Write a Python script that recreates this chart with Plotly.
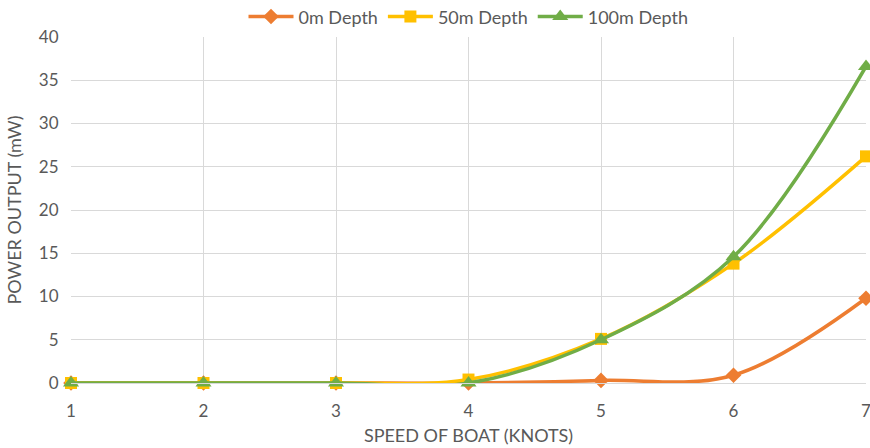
import plotly.graph_objects as go

speed = [1, 2, 3, 4, 5, 6, 7]
depth_0m = [0, 0, 0, 0, 0.3, 0.9, 9.8]
depth_50m = [0, 0, 0, 0.4, 5.1, 13.8, 26.2]
depth_100m = [0, 0, 0, 0, 5.0, 14.6, 36.6]

series = [
    ("0m Depth", depth_0m, "#ED7D31", "diamond", 12),
    ("50m Depth", depth_50m, "#FFC000", "square", 12),
    ("100m Depth", depth_100m, "#70AD47", "triangle-up", 14),
]

fig = go.Figure()
for name, vals, color, sym, size in series:
    fig.add_trace(go.Scatter(
        x=speed, y=vals, name=name, mode="lines+markers",
        line=dict(color=color, width=3.5, shape="spline", smoothing=1),
        marker=dict(symbol=sym, size=size, color=color),
        cliponaxis=False,
    ))

font = "Lato, Open Sans, sans-serif"
grey = "#595959"
fig.update_layout(
    width=870, height=448,
    margin=dict(l=71, r=4, t=37, b=65, autoexpand=False),
    paper_bgcolor="white", plot_bgcolor="white",
    font=dict(family=font, color=grey, size=17),
    legend=dict(orientation="h", x=0.5, xanchor="center", y=1.005, yanchor="bottom",
                font=dict(size=18, color=grey), traceorder="normal", itemwidth=45),
    xaxis=dict(
        range=[1, 7], tickvals=speed, showgrid=True, gridcolor="#D9D9D9",
        zeroline=False, showline=True, linecolor="#D9D9D9",
        ticks="outside", ticklen=13, tickcolor="rgba(0,0,0,0)",
        ticklabeloverflow="allow", automargin=False,
        title=dict(text="SPEED OF BOAT (KNOTS)", font=dict(size=18, color=grey), standoff=8),
        tickfont=dict(size=17, color=grey),
    ),
    yaxis=dict(
        range=[0, 40], dtick=5, showgrid=True, gridcolor="#D9D9D9",
        zeroline=False, showline=False, automargin=False,
        ticks="outside", ticklen=8, tickcolor="rgba(0,0,0,0)",
        title=dict(text="POWER OUTPUT (mW)", font=dict(size=18, color=grey), standoff=12),
        tickfont=dict(size=17, color=grey),
    ),
)

fig.write_html("out.html")
